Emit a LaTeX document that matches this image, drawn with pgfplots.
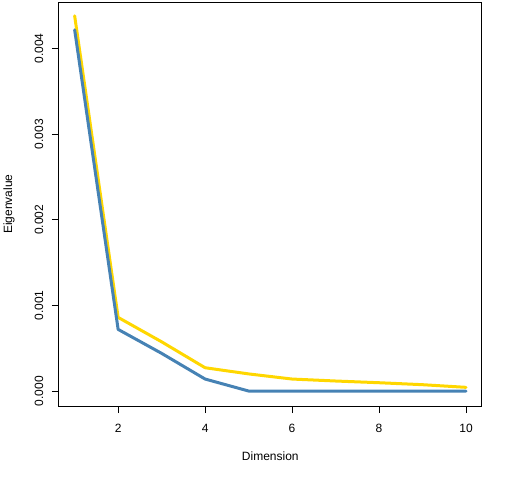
\documentclass[border=0pt]{standalone}
\usepackage{pgfplots}
\pgfplotsset{compat=1.18}
\usepackage{fontspec}
\setmainfont{Liberation Sans}
\definecolor{gold}{HTML}{FFD700}
\definecolor{steelblue}{HTML}{4682B4}
\begin{document}
\begin{tikzpicture}
\begin{axis}[
  scale only axis,
  width=317pt, height=303pt,
  xmin=0.64, xmax=10.36,
  ymin=-0.000175, ymax=0.004545,
  xtick={2,4,6,8,10},
  ytick={0,0.001,0.002,0.003,0.004},
  yticklabels={0.000,0.001,0.002,0.003,0.004},
  scaled y ticks=false,
  tick pos=left,
  tick align=outside,
  major tick length=5.25pt,
  axis line style={line width=0.75pt},
  every tick/.style={line width=0.75pt, black},
  font=\fontsize{9pt}{10pt}\selectfont,
  /pgf/number format/assume math mode=true,
  xticklabel style={anchor=north, inner sep=0pt, yshift=-8pt},
  yticklabel style={rotate=90, anchor=south, inner sep=0pt, yshift=6.4pt},
  xlabel={Dimension},
  ylabel={Eigenvalue},
  xlabel style={at={(axis description cs:0.5,0)}, anchor=center, yshift=-38pt, inner sep=0pt},
  ylabel style={at={(axis description cs:0,0.5)}, anchor=center, yshift=37.5pt, inner sep=0pt},
  clip=false,
]
\path[use as bounding box] (rel axis cs:0,0) ++(-44.25pt,-55.5pt) rectangle ([xshift=339.75pt,yshift=304.5pt]rel axis cs:0,0);
\addplot[gold, line width=2.25pt, line cap=round, line join=round] coordinates {
(1,0.004384) (2,0.00086) (3,0.000575) (4,0.000272) (5,0.0002) (6,0.00014) (7,0.000117) (8,0.000097) (9,0.000074) (10,0.000043)
};
\addplot[steelblue, line width=2.25pt, line cap=round, line join=round] coordinates {
(1,0.00422) (2,0.00072) (3,0.00044) (4,0.00014) (5,0) (6,0) (7,0) (8,0) (9,0) (10,0)
};
\end{axis}
\end{tikzpicture}
\end{document}
